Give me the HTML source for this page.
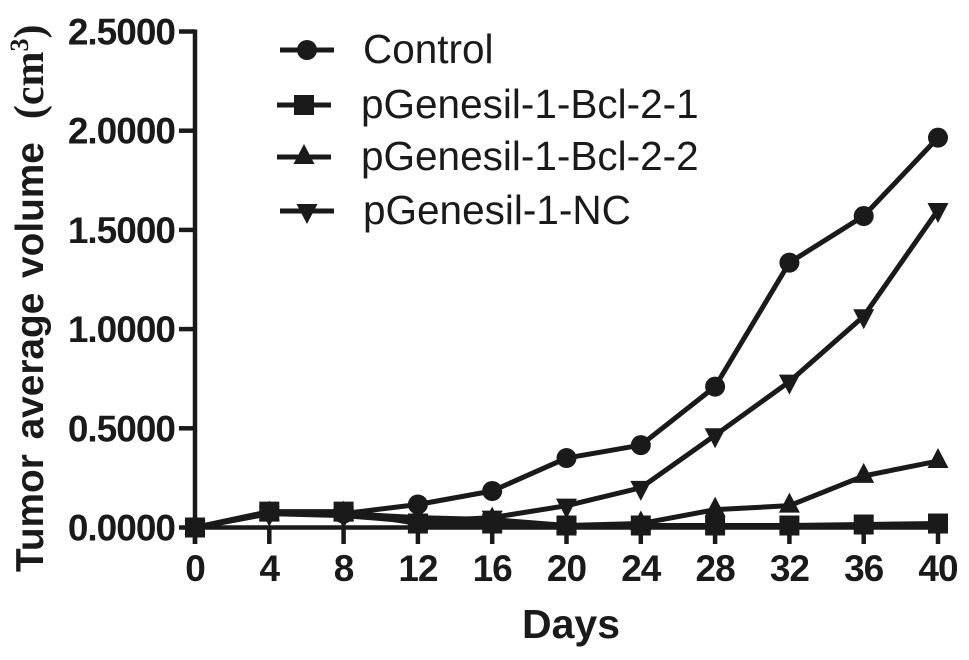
<!DOCTYPE html>
<html>
<head>
<meta charset="utf-8">
<style>
html,body{margin:0;padding:0;background:#fff;width:969px;height:660px;overflow:hidden}
svg{display:block}
text{fill:#1a1a1a;font-family:"Liberation Sans",sans-serif}
.tick{font-weight:bold;font-size:37px;letter-spacing:-1px}
.leg{font-size:40.5px}
</style>
</head>
<body>
<svg id="chart" width="969" height="660" viewBox="0 0 969 660" xmlns="http://www.w3.org/2000/svg">
  <g id="axes"></g>
  <g id="series"></g>
  <g id="legend"></g>
  <text x="571" y="638" text-anchor="middle" font-weight="bold" font-size="41">Days</text>
  <text transform="translate(43,572) rotate(-90)" font-weight="bold" font-size="38.8" word-spacing="4" xml:space="preserve">Tumor average volume<tspan font-family="'Liberation Serif',serif" font-size="42" dx="23">(cm</tspan><tspan font-family="'Liberation Serif',serif" font-size="26" dy="-15">3</tspan><tspan font-family="'Liberation Serif',serif" font-size="42" dy="15">)</tspan></text>
</svg>
<script>
const days = [0, 4, 8, 12, 16, 20, 24, 28, 32, 36, 40];
const xTickLabels = ['0', '4', '8', '12', '16', '20', '24', '28', '32', '36', '40'];
const yTickValues = [0, 0.5, 1, 1.5, 2, 2.5];
const yTickLabels = ['0.0000', '0.5000', '1.0000', '1.5000', '2.0000', '2.5000'];
const control = [0, 0.08, 0.07, 0.116, 0.184, 0.35, 0.415, 0.71, 1.335, 1.57, 1.965];
const bcl1 = [0, 0.08, 0.08, 0.02, 0.02, 0.01, 0.01, 0.01, 0.01, 0.015, 0.02];
const bcl2 = [0, 0.07, 0.07, 0.05, 0.04, 0.01, 0.02, 0.09, 0.11, 0.26, 0.335];
const nc = [0, 0.07, 0.06, 0.03, 0.05, 0.11, 0.2, 0.465, 0.735, 1.065, 1.6];
const legendLabels = ['Control', 'pGenesil-1-Bcl-2-1', 'pGenesil-1-Bcl-2-2', 'pGenesil-1-NC'];

const INK = '#1a1a1a';
const NS = 'http://www.w3.org/2000/svg';
const xScale = d => 195 + (d / 40) * 743;
const yScale = v => 527.5 - (v / 2.5) * 496;

function make(parent, tag, attrs) {
  const el = document.createElementNS(NS, tag);
  for (const k in attrs) el.setAttribute(k, attrs[k]);
  parent.appendChild(el);
  return el;
}

function marker(parent, kind, x, y) {
  if (kind === 'circle') return make(parent, 'circle', {cx: x, cy: y, r: 10, fill: INK});
  if (kind === 'square') return make(parent, 'rect', {x: x - 10, y: y - 10, width: 20, height: 20, fill: INK});
  if (kind === 'up') return make(parent, 'polygon', {points: `${x},${y - 13} ${x + 10.5},${y + 7} ${x - 10.5},${y + 7}`, fill: INK});
  return make(parent, 'polygon', {points: `${x},${y + 13} ${x + 10.5},${y - 7} ${x - 10.5},${y - 7}`, fill: INK});
}

const axes = document.getElementById('axes');

const yAxisLine = make(axes, 'line', {x1: 195, y1: 29.5, x2: 195, y2: 544, stroke: INK, 'stroke-width': 4.5});



const xAxisLine = make(axes, 'line', {x1: 193, y1: yScale(0), x2: xScale(40) + 2, y2: yScale(0), stroke: INK, 'stroke-width': 4.5});



yTickValues.forEach((v, i) => {
  const tick = make(axes, 'line', {x1: 179, y1: yScale(v), x2: 195, y2: yScale(v), stroke: INK, 'stroke-width': 4.5});
  
  
  const label = make(axes, 'text', {x: 175, y: yScale(v) + 13, 'text-anchor': 'end', class: 'tick'});
  
  
  label.textContent = yTickLabels[i];
});

days.forEach((d, i) => {
  const tick = make(axes, 'line', {x1: xScale(d), y1: yScale(0), x2: xScale(d), y2: 544, stroke: INK, 'stroke-width': 4.5});
  
  
  const label = make(axes, 'text', {x: xScale(d), y: 581, 'text-anchor': 'middle', class: 'tick'});
  
  
  label.textContent = xTickLabels[i];
});

const seriesLayer = document.getElementById('series');

function drawSeries(values, kind, name) {
  const g = make(seriesLayer, 'g', {});
  
  
  const line = make(g, 'polyline', {
    points: values.map((v, i) => xScale(days[i]) + ',' + yScale(v)).join(' '),
    fill: 'none', stroke: INK, 'stroke-width': 5, 'stroke-linejoin': 'round'
  });
  
  
  values.forEach((v, i) => {
    const m = marker(g, kind, xScale(days[i]), yScale(v));
    
    
  });
}

drawSeries(control, 'circle', 'series-control');
drawSeries(nc, 'down', 'series-pgenesil-1-nc');
drawSeries(bcl2, 'up', 'series-pgenesil-1-bcl-2-2');
drawSeries(bcl1, 'square', 'series-pgenesil-1-bcl-2-1');

const legend = document.getElementById('legend');
const legendKinds = ['circle', 'square', 'up', 'down'];
const legendLineX = [280, 277, 277, 280];
const legendTextX = [363, 361, 361, 363];
const legendLineY = [50, 105, 157, 211];
const legendTextY = [63, 118, 170, 224];

legendLabels.forEach((t, i) => {
  const g = make(legend, 'g', {});
  
  
  make(g, 'line', {x1: legendLineX[i], y1: legendLineY[i], x2: legendLineX[i] + 54, y2: legendLineY[i], stroke: INK, 'stroke-width': 5});
  marker(g, legendKinds[i], legendLineX[i] + 27, legendLineY[i]);
  const label = make(g, 'text', {x: legendTextX[i], y: legendTextY[i], class: 'leg'});
  
  
  label.textContent = t;
});
</script>
</body>
</html>
